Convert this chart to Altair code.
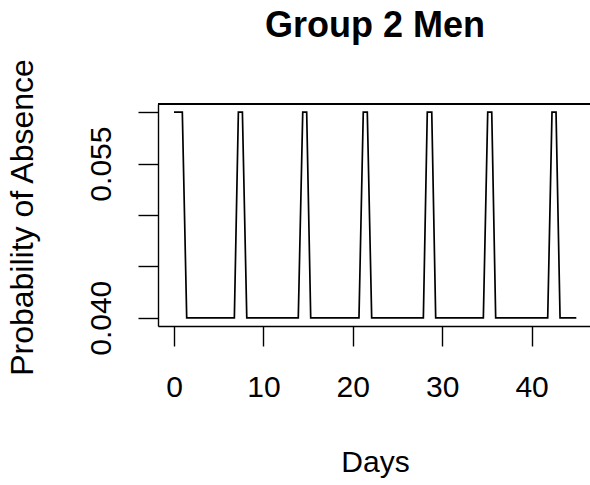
import altair as alt
import pandas as pd

# Corner points of the weekly absence pattern (day, probability)
days = [0, 0.93, 1.42, 6.75, 7.20, 7.65, 8.14, 13.90, 14.40, 14.84, 15.29,
        20.69, 21.17, 21.62, 22.11, 27.89, 28.33, 28.83, 29.27,
        34.60, 35.09, 35.54, 35.98, 41.80, 42.28, 42.73, 43.18, 45.0]
prob = [0.06, 0.06, 0.04, 0.04, 0.06, 0.06, 0.04, 0.04, 0.06, 0.06, 0.04,
        0.04, 0.06, 0.06, 0.04, 0.04, 0.06, 0.06, 0.04,
        0.04, 0.06, 0.06, 0.04, 0.04, 0.06, 0.06, 0.04, 0.04]

x_ticks = [0, 10, 20, 30, 40]
y_ticks = [0.040, 0.045, 0.050, 0.055, 0.060]
title_text = "Group 2 Men"

df = pd.DataFrame({"day": days, "prob": prob})

FONT = "Liberation Sans"
W, H = 432, 222

x_axis = alt.Axis(
    values=x_ticks, grid=False, tickSize=20, tickWidth=1.4, tickColor="black",
    domainColor="black", domainWidth=1.4, labelFont=FONT, labelFontSize=30,
    labelColor="black", labelPadding=50, labelBaseline="alphabetic",
    labelOverlap=False, labelFlush=False,
    title="Days", titleFont=FONT, titleFontSize=30, titleFontWeight="normal",
    titleColor="black", titleX=W / 2 + 1, titleY=145, titleBaseline="alphabetic",
    titleAlign="center",
)

y_axis = alt.Axis(
    values=y_ticks, grid=False, tickSize=20, tickWidth=1.4, tickColor="black",
    domainColor="black", domainWidth=1.4, labelFont=FONT, labelFontSize=30,
    labelColor="black", labelAngle=270, labelAlign="center",
    labelBaseline="alphabetic", labelPadding=28, labelOverlap=False,
    labelFlush=False,
    labelExpr="abs(datum.value - 0.04) < 0.0001 ? '0.040' : "
              "(abs(datum.value - 0.055) < 0.0001 ? '0.055' : '')",
    title="Probability of Absence", titleFont=FONT, titleFontSize=32,
    titleFontWeight="normal", titleColor="black", titleAngle=270,
    titleX=-126, titleY=H / 2 + 2, titleBaseline="alphabetic", titleAlign="center",
)

line = alt.Chart(df).mark_line(color="black", strokeWidth=1.7).encode(
    x=alt.X("day:Q", scale=alt.Scale(domain=[-1.79, 46.53], nice=False, zero=False),
            axis=x_axis),
    y=alt.Y("prob:Q", scale=alt.Scale(domain=[0.0392, 0.0608], nice=False, zero=False),
            axis=y_axis),
)

# top edge of the plot frame
frame_top = alt.Chart(df).mark_rule(color="black", strokeWidth=1.4).encode(
    x=alt.value(0), x2=alt.value(W), y=alt.value(0)
)

# main title above the frame
title = alt.Chart(pd.DataFrame({"t": [title_text]})).mark_text(
    font=FONT, fontSize=36, fontWeight="bold", color="black",
    align="center", baseline="alphabetic",
).encode(text="t:N", x=alt.value(W / 2 + 1), y=alt.value(-67))

chart = alt.layer(line, frame_top, title).properties(
    width=W,
    height=H,
    autosize=alt.AutoSizeParams(type="none"),
    padding={"left": 158, "top": 104, "right": 0, "bottom": 159},
).configure_view(stroke=None).configure(background="white")

chart.save("out.html", embed_options={"renderer": "svg", "actions": False})
